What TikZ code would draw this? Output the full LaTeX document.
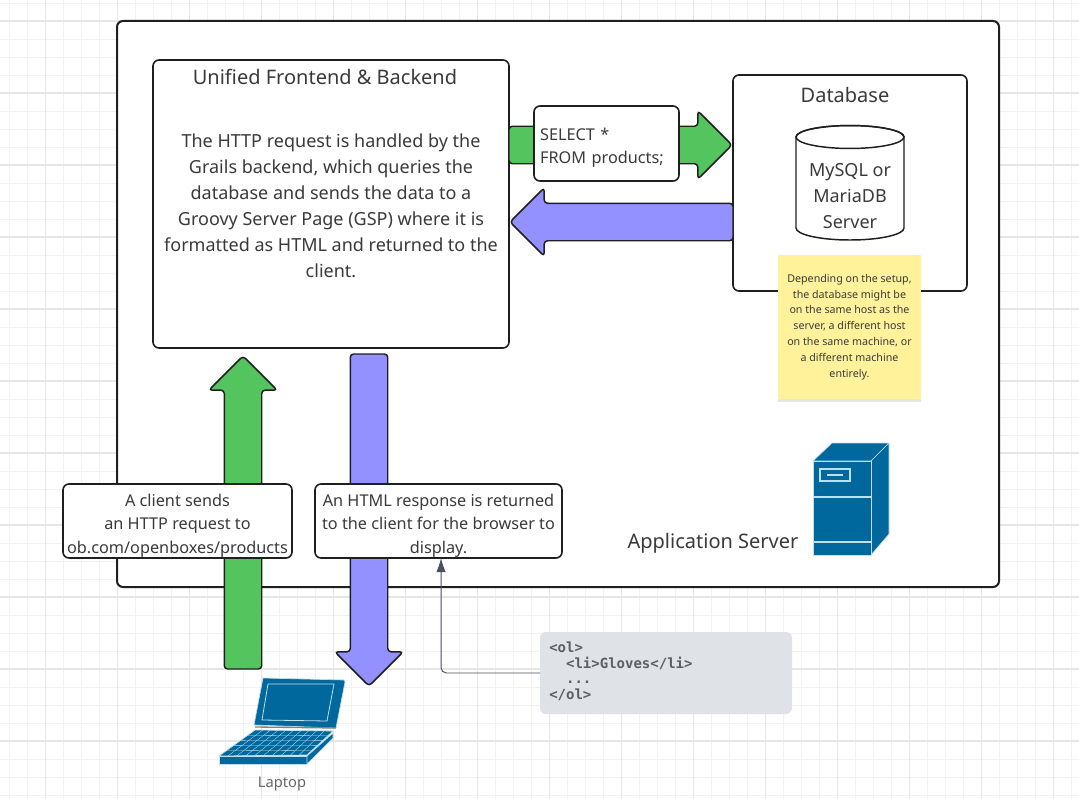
\documentclass[tikz,border=0pt]{standalone}
\usepackage{fontspec}
\setmainfont{Noto Sans}
\setmonofont{DejaVu Sans Mono}
\usetikzlibrary{arrows.meta, shapes.arrows, shadows}
\definecolor{gridminor}{HTML}{F2F2F2}
\definecolor{gridmajor}{HTML}{E6E6E6}
\definecolor{boxline}{HTML}{1F1F1F}
\definecolor{inktext}{HTML}{3A3A3A}
\definecolor{reqgreen}{HTML}{54C45E}
\definecolor{resblue}{HTML}{9391FF}
\definecolor{stickyfill}{HTML}{FFF29B}
\definecolor{iconblue}{HTML}{00689D}
\definecolor{iconline}{HTML}{BFDFEC}
\definecolor{codefill}{HTML}{DFE2E6}
\definecolor{codetext}{HTML}{5A5F66}
\definecolor{linkline}{HTML}{4A5160}
\tikzset{
	panel/.style = {draw = boxline, line width = 1.5pt, fill = white, rounded corners = 4.5pt, inner sep = 0pt, outer sep = 0pt},
	textbox/.style = {panel, line width = 1.2pt},
	boxlabel/.style = {text = inktext, align = center, yshift = -3.4pt, font = \fontsize{12.2}{17.6}\selectfont},
	blockarrow/.style = {single arrow, draw = boxline, line width = 1.1pt, rounded corners = 2.5pt, inner sep = 0pt, inner ysep = 13.5pt, outer sep = 0pt, minimum width = 50pt, single arrow head extend = 11.6pt},
	iconpart/.style = {fill = iconblue, draw = iconline, line width = 0.5pt, line join = round},
}
\begin{document}
\begin{tikzpicture} [>=latex, x=0.75pt, y=-0.75pt]
	\useasboundingbox (0,0) rectangle (1079,799);
	\fill[white] (0,0) rectangle (1079,799);
	\foreach \gx in {0,...,59} \draw[gridminor, line width = 0.7pt] (9.6+18*\gx,0) -- (9.6+18*\gx,799);
	\foreach \gy in {0,...,44} \draw[gridminor, line width = 0.7pt] (0,3+18*\gy) -- (1079,3+18*\gy);
	\foreach \gx in {0,...,14} \draw[gridmajor, line width = 0.8pt] (45.6+72*\gx,0) -- (45.6+72*\gx,799);
	\foreach \gy in {0,...,10} \draw[gridmajor, line width = 0.8pt] (0,21+72*\gy) -- (1079,21+72*\gy);

	\node[panel, minimum width = 661.5pt, minimum height = 424.5pt] (appServer) at (558,304) {};
	\node[panel, line width = 1.2pt, minimum width = 267pt, minimum height = 216pt] (frontend) at (331,204) {};
	\node[panel, line width = 1.2pt, minimum width = 175.5pt, minimum height = 162pt] (database) at (850,183) {};
	\node[text = inktext, font = \fontsize{15}{18}\selectfont] (frontendTitle) at (325,77) {Unified Frontend \& Backend};
	\node[text = inktext, align = center, font = \fontsize{13.5}{19.5}\selectfont] (frontendBody) at (331,206) {The HTTP request is handled by the\\Grails backend, which queries the\\database and sends the data to a\\Groovy Server Page (GSP) where it is\\formatted as HTML and returned to the\\client.};
	\node[text = inktext, font = \fontsize{15}{18}\selectfont] (databaseTitle) at (845,95) {Database};

	% database cylinder
	\draw[boxline, fill = white, line width = 1.1pt] (796,137) -- (796,228) arc[start angle = 180, end angle = 360, x radius = 40.5pt, y radius = 9pt] -- (904,137) arc[start angle = 0, end angle = 180, x radius = 40.5pt, y radius = 8.6pt];
	\draw[boxline, line width = 1.1pt] (850,137) ellipse[x radius = 40.5pt, y radius = 8.6pt];
	\node[text = inktext, align = center, font = \fontsize{13.5}{19.5}\selectfont] (dbServer) at (850,196) {MySQL or\\MariaDB\\Server};

	% block arrows
	\node[blockarrow, fill = reqgreen, rotate = 90, anchor = tip, minimum height = 234.75pt] (requestUp) at (243,356) {};
	\node[blockarrow, fill = resblue, rotate = -90, anchor = tip, minimum height = 249pt] (responseDown) at (369,686) {};
	\node[blockarrow, fill = reqgreen, anchor = tip, minimum height = 167.25pt] (queryRight) at (732,145) {};
	\node[blockarrow, fill = resblue, rotate = 180, anchor = tip, minimum height = 167.25pt] (dataLeft) at (510,222) {};

	\node[textbox, minimum width = 171.75pt, minimum height = 55.5pt, label = {[boxlabel]center:A client sends\\an HTTP request to\\ob.com/openboxes/products}] (clientBox) at (177.5,521) {};
	\node[textbox, minimum width = 185.25pt, minimum height = 55.5pt, label = {[boxlabel]center:An HTML response is returned\\to the client for the browser to\\display.}] (htmlBox) at (438.5,521) {};
	\node[textbox, minimum width = 108.75pt, minimum height = 56.25pt, label = {[boxlabel, align = left, text width = 104pt, xshift = 2.25pt]center:SELECT *\\FROM products;}] (sqlBox) at (606.5,143.5) {};

	\node[fill = stickyfill, minimum width = 107.25pt, minimum height = 108pt, inner sep = 0pt, text = inktext, align = center, font = \fontsize{8}{11.85}\selectfont, drop shadow = {shadow xshift = 0pt, shadow yshift = -2pt, opacity = 0.2}] (sticky) at (849.5,327) {Depending on the setup,\\the database might be\\on the same host as the\\server, a different host\\on the same machine, or\\a different machine\\entirely.};

	\node[fill = codefill, rounded corners = 4.5pt, minimum width = 189pt, minimum height = 61.5pt, inner sep = 0pt, outer sep = 0pt] (codeBox) at (666,673) {};
	\node[anchor = north west, inner sep = 0pt, text = codetext, font = \fontsize{10.5}{11.6}\selectfont\ttfamily\bfseries, align = left] (codeText) at (549,642) {<ol>\\\ \ <li>Gloves</li>\\\ \ ...\\</ol>};
	\draw[-{Latex[length=10.5pt, width=7pt]}, linkline, line width = 0.7pt, rounded corners = 4pt] (codeBox.west) -| ([xshift = 1.9pt]htmlBox.south);

	% server icon
	\draw[iconpart] (813,461) -- (832,443) -- (889,443) -- (871,461) -- cycle;
	\draw[iconpart] (871,461) -- (889,443) -- (889,534) -- (871,555) -- cycle;
	\draw[iconpart] (813,461) rectangle (871,555);
	\draw[iconline, line width = 0.8pt] (813,497) -- (871,497) (813,542) -- (871,542);
	\draw[iconline, line width = 0.9pt] (820,469) rectangle (850,481);
	\draw[iconline, line width = 1pt] (827,475) -- (843,475);
	\node[text = inktext, font = \fontsize{15}{18}\selectfont] (serverLabel) at (713,543) {Application Server};

	% laptop icon
	\draw[iconpart] (263,678) -- (344,680) -- (345,682) -- (336,728) -- (254,725) -- cycle;
	\draw[iconline, line width = 0.6pt] (268,684) -- (334,684) -- (327,721) -- (262,720) -- cycle;
	\draw[gray, line width = 1pt] (255,727) -- (336,728);
	\draw[iconpart] (255,730) -- (333,731) -- (307,755) -- (219,756) -- cycle;
	\foreach \kb in {0.2,0.4,0.6,0.8} \draw[iconline, line width = 0.25pt] (255-36*\kb,730+26*\kb) -- (333-26*\kb,731+24*\kb);
	\foreach \kb in {0.1,0.2,...,0.9} \draw[iconline, line width = 0.25pt] (255+78*\kb,730) -- (219+88*\kb,756);
	\draw[iconpart] (219,756) rectangle (307,764);
	\draw[iconpart] (307,756) -- (333,733) -- (333,738) -- (307,764) -- cycle;
	\node[text = black!60, font = \fontsize{11}{12}\selectfont] (laptopLabel) at (282,784) {Laptop};
\end{tikzpicture}
\end{document}
